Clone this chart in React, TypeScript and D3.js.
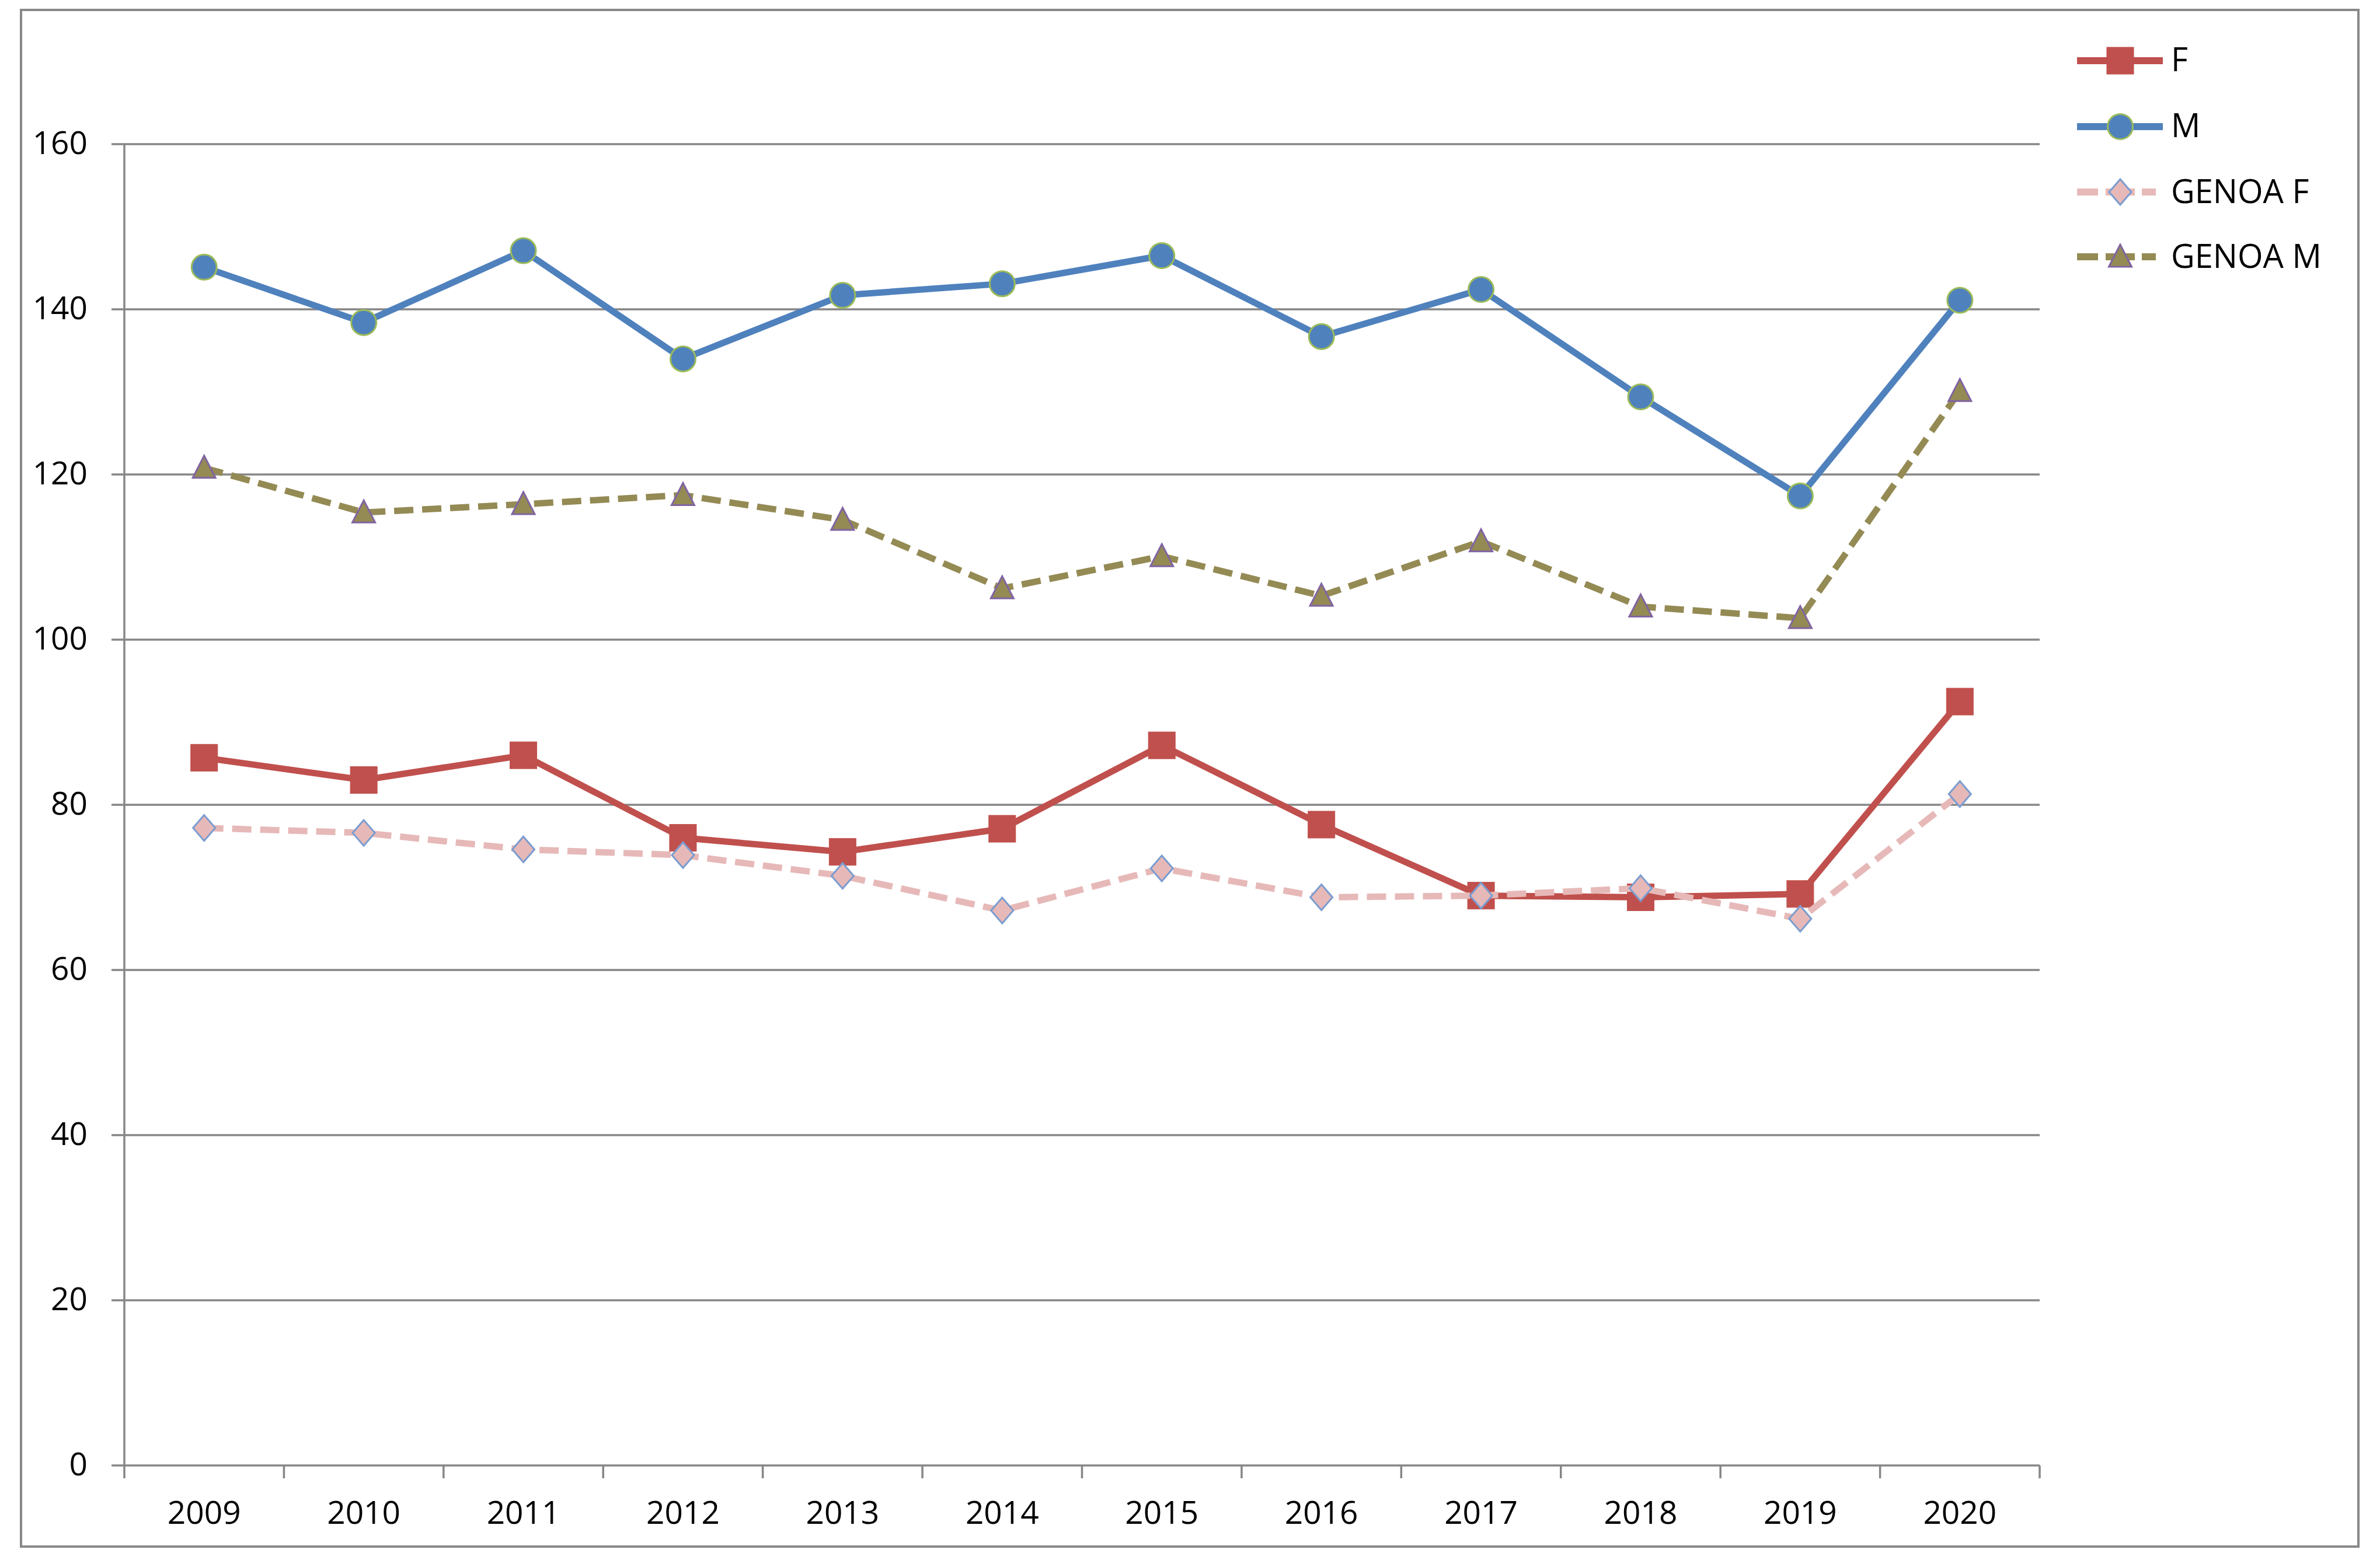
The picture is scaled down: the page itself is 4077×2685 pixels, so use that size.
import React from "react";
import * as d3 from "d3";

const years = ["2009","2010","2011","2012","2013","2014","2015","2016","2017","2018","2019","2020"];
const fValues = [85.7, 83.0, 86.0, 76.0, 74.3, 77.1, 87.2, 77.6, 69.0, 68.8, 69.2, 92.5];
const mValues = [145.1, 138.4, 147.1, 134.0, 141.7, 143.1, 146.5, 136.7, 142.4, 129.4, 117.4, 141.1];
const genoaFValues = [77.2, 76.6, 74.6, 73.9, 71.4, 67.2, 72.3, 68.8, 69.0, 69.9, 66.2, 81.3];
const genoaMValues = [120.8, 115.4, 116.4, 117.5, 114.5, 106.2, 110.1, 105.3, 111.9, 104.0, 102.6, 130.1];
const yTicks = [0, 20, 40, 60, 80, 100, 120, 140, 160];
const seriesNames = ["F", "M", "GENOA F", "GENOA M"];

const W = 4077;
const H = 2685;
const FONT = "'Open Sans', Lato, sans-serif";

type Series = {
  name: string;
  values: number[];
  color: string;
  dash?: string;
  marker: "square" | "circle" | "diamond" | "triangle";
  mFill: string;
  mStroke: string;
};

const series: Series[] = [
  { name: seriesNames[0], values: fValues, color: "#C0504D", marker: "square", mFill: "#C0504D", mStroke: "#C0504D" },
  { name: seriesNames[1], values: mValues, color: "#4F81BD", marker: "circle", mFill: "#4F81BD", mStroke: "#9BBB59" },
  { name: seriesNames[2], values: genoaFValues, color: "#E6B9B8", dash: "33 15", marker: "diamond", mFill: "#E6B9B8", mStroke: "#7A9CD0" },
  { name: seriesNames[3], values: genoaMValues, color: "#948A54", dash: "33 15", marker: "triangle", mFill: "#948A54", mStroke: "#8064A2" },
];

function Marker({ kind, x, y, fill, stroke }: { kind: Series["marker"]; x: number; y: number; fill: string; stroke: string }) {
  if (kind === "square") {
    const s = 46;
    return <rect x={x - s / 2} y={y - s / 2} width={s} height={s} fill={fill} stroke={stroke} strokeWidth={1} />;
  }
  if (kind === "circle") {
    return <circle cx={x} cy={y} r={21.5} fill={fill} stroke={stroke} strokeWidth={3} />;
  }
  if (kind === "diamond") {
    const w = 19, h = 22;
    return <path d={`M${x},${y - h}L${x + w},${y}L${x},${y + h}L${x - w},${y}Z`} fill={fill} stroke={stroke} strokeWidth={3} />;
  }
  const w = 19.5, h = 38;
  return <path d={`M${x},${y - h * 0.55}L${x + w},${y + h * 0.45}L${x - w},${y + h * 0.45}Z`} fill={fill} stroke={stroke} strokeWidth={3} />;
}

export default function App() {
  const x = d3.scaleBand<string>().domain(years).range([213, 3494]).padding(0);
  const y = d3.scaleLinear().domain([0, 160]).range([2511, 247]);
  const cx = (yr: string) => (x(yr) as number) + x.bandwidth() / 2;
  const line = d3.line<number>().x((_, i) => cx(years[i])).y((v) => y(v));

  const boundaries = years.map((yr) => x(yr) as number).concat([x.range()[1]]);

  const legendRows = [104, 217, 329, 440];
  const legendBase = [122, 235, 348, 459];

  return (
    <svg width={W} height={H} style={{ position: "absolute", left: 0, top: 0, display: "block", background: "#fff" }} fontFamily={FONT}>
      <rect x={0} y={0} width={W} height={H} fill="#fff" />
      <rect x={36} y={17} width={4004} height={2633} fill="none" stroke="#888888" strokeWidth={4} />

      {yTicks.map((t) => (
        <line key={"g" + t} x1={191} x2={3494} y1={y(t)} y2={y(t)} stroke="#868686" strokeWidth={3.5} />
      ))}
      <line x1={213} x2={213} y1={y(160)} y2={y(0)} stroke="#868686" strokeWidth={3.5} />
      {boundaries.map((b, i) => (
        <line key={"t" + i} x1={b} x2={b} y1={y(0)} y2={y(0) + 22} stroke="#868686" strokeWidth={3.5} />
      ))}

      {yTicks.map((t) => (
        <text key={"yl" + t} x={150} y={y(t) + 17} textAnchor="end" fontSize={55} fill="#000">{t}</text>
      ))}
      {years.map((yr) => (
        <text key={"xl" + yr} x={cx(yr)} y={2611} textAnchor="middle" fontSize={55} fill="#000">{yr}</text>
      ))}

      {series.map((s) => (
        <g key={s.name}>
          <path d={line(s.values) || ""} fill="none" stroke={s.color} strokeWidth={11} strokeDasharray={s.dash} strokeLinejoin="round" />
          {s.values.map((v, i) => (
            <Marker key={i} kind={s.marker} x={cx(years[i])} y={y(v)} fill={s.mFill} stroke={s.mStroke} />
          ))}
        </g>
      ))}

      {series.map((s, i) => (
        <g key={"lg" + s.name}>
          {s.dash ? (
            <>
              <line x1={3558} x2={3594} y1={legendRows[i]} y2={legendRows[i]} stroke={s.color} strokeWidth={12} />
              <line x1={3607} x2={3657} y1={legendRows[i]} y2={legendRows[i]} stroke={s.color} strokeWidth={12} />
              <line x1={3669} x2={3693} y1={legendRows[i]} y2={legendRows[i]} stroke={s.color} strokeWidth={12} />
            </>
          ) : (
            <line x1={3558} x2={3705} y1={legendRows[i]} y2={legendRows[i]} stroke={s.color} strokeWidth={12} />
          )}
          <Marker kind={s.marker} x={3632} y={legendRows[i]} fill={s.mFill} stroke={s.mStroke} />
          <text x={3719} y={legendBase[i]} fontSize={56} fill="#000">{s.name}</text>
        </g>
      ))}
    </svg>
  );
}
